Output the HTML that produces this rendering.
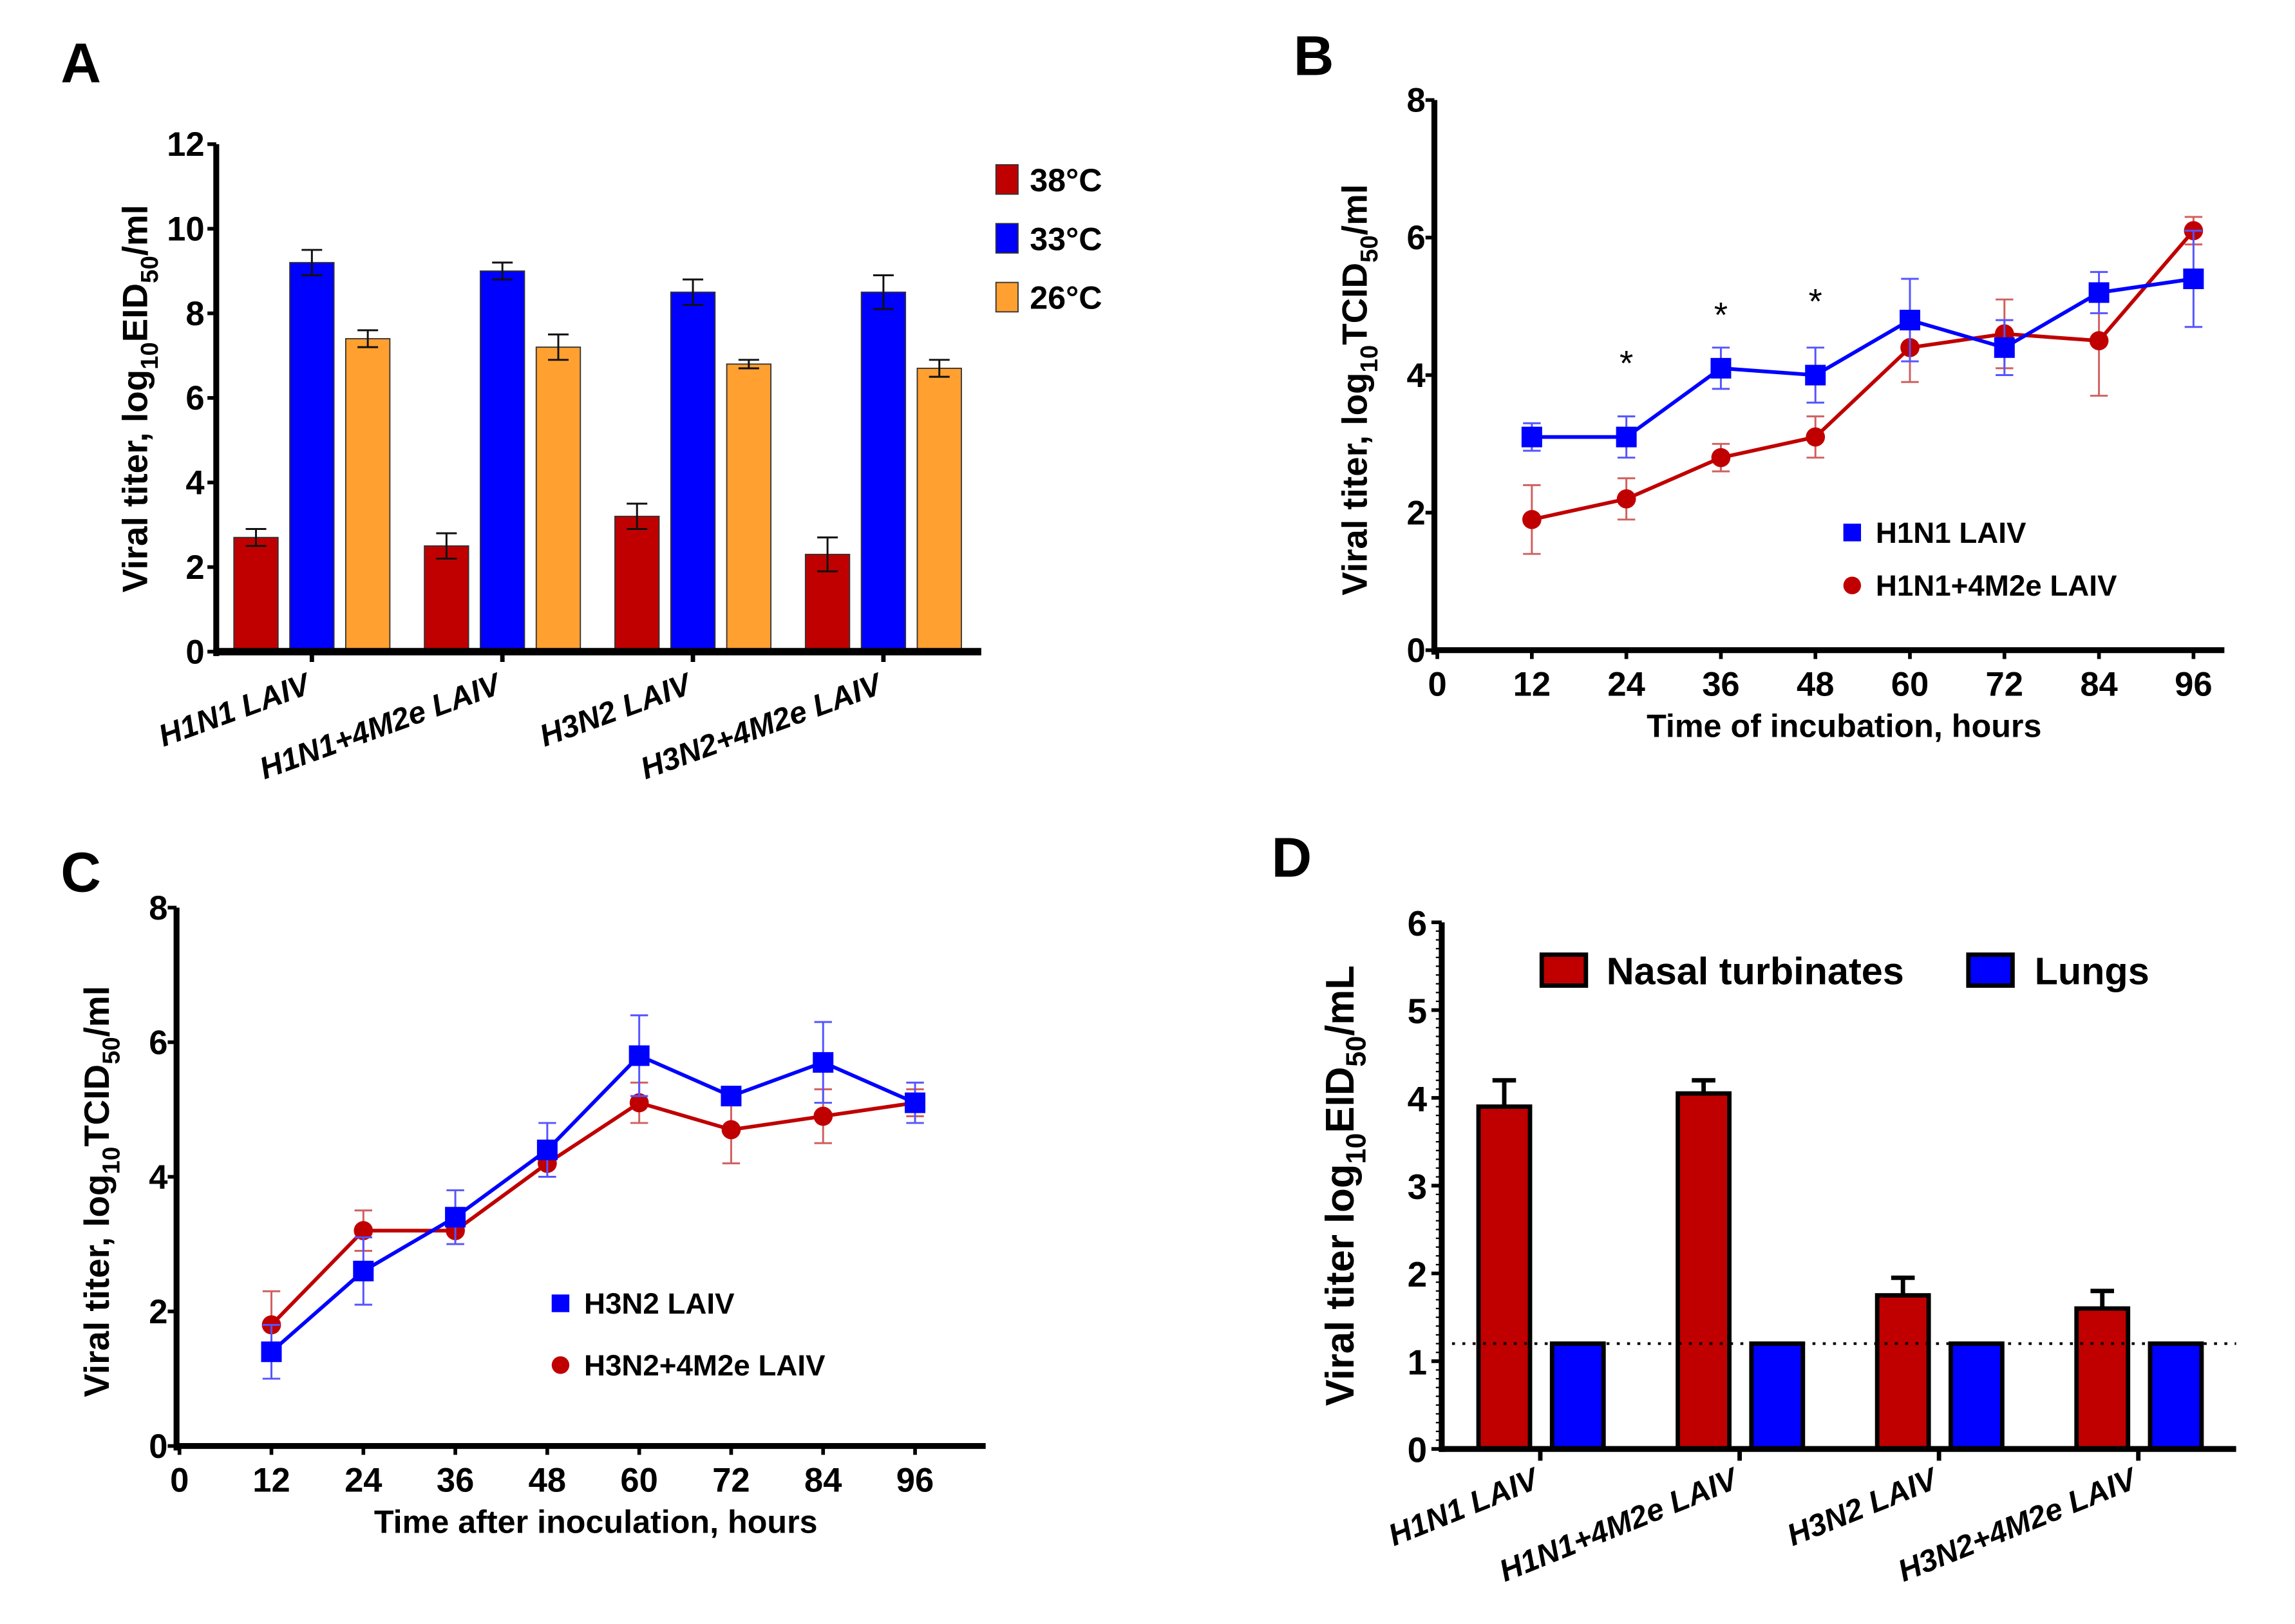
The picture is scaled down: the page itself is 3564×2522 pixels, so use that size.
<!DOCTYPE html>
<html><head><meta charset="utf-8"><style>
html,body{margin:0;padding:0;background:#fff;}
svg{display:block;}
text{font-family:"Liberation Sans",sans-serif;}
.t{font-family:"Liberation Sans Narrow","Liberation Sans",sans-serif;font-weight:bold;}
</style></head><body>
<svg id="fig" width="3564" height="2522" viewBox="0 0 1560 1104" preserveAspectRatio="none" xmlns="http://www.w3.org/2000/svg"></svg>
<script>
// Panel A data
const catsA = ["H1N1 LAIV","H1N1+4M2e LAIV","H3N2 LAIV","H3N2+4M2e LAIV"];
const seriesA = ["38°C","33°C","26°C"];
const a38 = [2.7,2.5,3.2,2.3];
const a38e = [0.2,0.3,0.3,0.4];
const a33 = [9.2,9.0,8.5,8.5];
const a33e = [0.3,0.2,0.3,0.4];
const a26 = [7.4,7.2,6.8,6.7];
const a26e = [0.2,0.3,0.1,0.2];
const ticksA = [0,2,4,6,8,10,12];
// Panel B data
const hours = [12,24,36,48,60,72,84,96];
const xTicks = [0,12,24,36,48,60,72,84,96];
const bBlue = [3.1,3.1,4.1,4.0,4.8,4.4,5.2,5.4];
const bBlueE = [0.2,0.3,0.3,0.4,0.6,0.4,0.3,0.7];
const bRed = [1.9,2.2,2.8,3.1,4.4,4.6,4.5,6.1];
const bRedE = [0.5,0.3,0.2,0.3,0.5,0.5,0.8,0.2];
const bStarHours = [24,36,48];
const bStarVals = [4.3,5.0,5.2];
const ticksBC = [0,2,4,6,8];
// Panel C data
const cBlue = [1.4,2.6,3.4,4.4,5.8,5.2,5.7,5.1];
const cBlueE = [0.4,0.5,0.4,0.4,0.6,0.1,0.6,0.3];
const cRed = [1.8,3.2,3.2,4.2,5.1,4.7,4.9,5.1];
const cRedE = [0.5,0.3,0.2,0.2,0.3,0.5,0.4,0.2];
// Panel D data
const dNasal = [3.9,4.05,1.75,1.6];
const dNasalE = [0.3,0.15,0.2,0.2];
const dLungs = [1.2,1.2,1.2,1.2];
const dLimit = 1.2;
const ticksD = [0,1,2,3,4,5,6];

const svg = document.getElementById('fig');
const NS = "http://www.w3.org/2000/svg";
function el(tag, attrs, parent, txt){
  const e = document.createElementNS(NS, tag);
  for (const k in attrs) e.setAttribute(k, attrs[k]);
  if (txt !== undefined) e.textContent = txt;
  (parent||svg).appendChild(e);
  return e;
}
function group(name){
  const g = el('g', {});
  
  
  return g;
}
function panelLetter(ch, x, y){
  const t = el('text', {x:x, y:y, 'font-size':38, 'font-weight':'bold', 'text-anchor':'middle'}, svg, ch);
  
  
}
function ylabel(g, x, y, main, unit, rest, size){
  const t = el('text', {x:0, y:0, 'font-size':size, 'font-weight':'bold', 'text-anchor':'middle', transform:`translate(${x},${y}) rotate(-90)`}, g);
  
  
  el('tspan', {}, t, main);
  el('tspan', {'font-size':size*0.7, dy:size*0.3}, t, '10');
  el('tspan', {dy:-size*0.3}, t, unit);
  el('tspan', {'font-size':size*0.7, dy:size*0.3}, t, '50');
  el('tspan', {dy:-size*0.3}, t, rest);
}
function errBar(g, x, yTop, yBot, col, cap, w){
  el('line', {x1:x, x2:x, y1:yTop, y2:yBot, stroke:col, 'stroke-width':w||1.5}, g);
  el('line', {x1:x-cap, x2:x+cap, y1:yTop, y2:yTop, stroke:col, 'stroke-width':w||1.5}, g);
}
function errBar2(g, x, yTop, yBot, col, cap, w){
  errBar(g, x, yTop, yBot, col, cap, w);
  el('line', {x1:x-cap, x2:x+cap, y1:yBot, y2:yBot, stroke:col, 'stroke-width':w||1.5}, g);
}

// ================= Panel A =================
panelLetter('A', 55, 56);
(function(){
  const g = group('panel-a-chart');
  const x0 = 147, y0 = 443, yTop = 98, xEnd = 667;
  const ys = v => y0 - (v/12)*(y0-yTop);
  const groupX = i => 159 + i*129.5;
  const offs = [0,38,76], bw = 30;
  const cols = ["#c00000","#0000ff","#ffa030"];
  const vals = [a38,a33,a26], errs = [a38e,a33e,a26e];
  for (let s=0;s<3;s++){
    for (let i=0;i<catsA.length;i++){
      const x = groupX(i)+offs[s];
      const r = el('rect', {x:x, y:ys(vals[s][i]), width:bw, height:y0-ys(vals[s][i]), fill:cols[s], stroke:'#333', 'stroke-width':0.8}, g);
      
      
      errBar2(g, x+bw/2, ys(vals[s][i]+errs[s][i]), ys(vals[s][i]-errs[s][i]), '#111', 7, 1.3);
    }
  }
  el('line', {x1:x0, x2:x0, y1:yTop, y2:y0+3, stroke:'#000', 'stroke-width':4}, g);
  el('line', {x1:x0-2, x2:xEnd, y1:y0, y2:y0, stroke:'#000', 'stroke-width':5}, g);
  ticksA.forEach(v=>{
    el('line', {x1:x0-6, x2:x0, y1:ys(v), y2:ys(v), stroke:'#000', 'stroke-width':2.5}, g);
    const t = el('text', {x:x0-8, y:ys(v)+8, 'font-size':23, 'text-anchor':'end', class:'t'}, g, v);
     
  });
  catsA.forEach((c,i)=>{
    const cx = groupX(i)+53;
    el('line', {x1:cx, x2:cx, y1:y0, y2:y0+7, stroke:'#000', 'stroke-width':3}, g);
    const t = el('text', {x:0, y:0, 'font-size':21, 'font-weight':'bold', 'font-style':'italic', 'text-anchor':'end', transform:`translate(${cx},${y0+28}) rotate(-20)`}, g, c);
     
  });
  ylabel(g, 100, 271, "Viral titer, log", "EID", "/ml", 24);
  seriesA.forEach((s,i)=>{
    const lg = group('legend-entry-' + s.replace('°C','c'));
    el('rect', {x:677, y:112+i*40, width:15, height:20, fill:cols[i], stroke:'#333', 'stroke-width':0.8}, lg);
    el('text', {x:700, y:130+i*40, 'font-size':22, class:'t'}, lg, s);
  });
})();

// generic line chart
function lineChart(name, x0, y0, yTop, xEnd, xStep, blue, blueE, red, redE, xTitle, legendX, legendY1, legendY2, blueName, redName, stars){
  const g = group(name);
  const ys = v => y0 - (v/8)*(y0-yTop);
  const xs = h => x0 + 2 + (h/12)*xStep;
  el('line', {x1:x0, x2:x0, y1:yTop, y2:y0+3, stroke:'#000', 'stroke-width':4}, g);
  el('line', {x1:x0-2, x2:xEnd, y1:y0, y2:y0, stroke:'#000', 'stroke-width':4}, g);
  ticksBC.forEach(v=>{
    el('line', {x1:x0-6, x2:x0, y1:ys(v), y2:ys(v), stroke:'#000', 'stroke-width':2.5}, g);
    const t = el('text', {x:x0-6, y:ys(v)+8, 'font-size':23, 'text-anchor':'end', class:'t'}, g, v);
     
  });
  xTicks.forEach(h=>{
    el('line', {x1:xs(h), x2:xs(h), y1:y0, y2:y0+6, stroke:'#000', 'stroke-width':2.5}, g);
    const t = el('text', {x:xs(h), y:y0+31, 'font-size':23, 'text-anchor':'middle', class:'t'}, g, h);
     
  });
  const xt = el('text', {x:(x0+xEnd)/2+10, y:y0+59, 'font-size':22, 'text-anchor':'middle', class:'t'}, g, xTitle);
   
  ylabel(g, x0-46, (y0+yTop)/2 + 10, "Viral titer, log", "TCID", "/ml", 24);
  const drawSeries = (vals, errs, col, errCol, square, sname)=>{
    const sg = group(sname);
    vals.forEach((v,i)=> errBar2(sg, xs(hours[i]), ys(v+errs[i]), ys(v-errs[i]), errCol, 6, 1.3));
    const pts = vals.map((v,i)=>xs(hours[i])+','+ys(v)).join(' ');
    el('polyline', {points:pts, fill:'none', stroke:col, 'stroke-width':2.5}, sg);
    vals.forEach((v,i)=>{
      const m = square ? el('rect', {x:xs(hours[i])-7, y:ys(v)-7, width:14, height:14, fill:col}, sg)
                       : el('circle', {cx:xs(hours[i]), cy:ys(v), r:6.5, fill:col}, sg);
       
    });
  };
  drawSeries(red, redE, '#c00000', '#d06060', false, 'series-red');
  drawSeries(blue, blueE, '#0000ff', '#5555ff', true, 'series-blue');
  if (stars) stars.h.forEach((h,i)=>{
    const t = el('text', {x:xs(h), y:ys(stars.v[i])+14, 'font-size':24, 'text-anchor':'middle'}, g, '*');
     
  });
  const l1 = group('legend-entry-blue');
  el('rect', {x:legendX-6, y:legendY1-6, width:12, height:12, fill:'#0000ff'}, l1);
  el('text', {x:legendX+16, y:legendY1+7, 'font-size':20, class:'t'}, l1, blueName);
  const l2 = group('legend-entry-red');
  el('circle', {cx:legendX, cy:legendY2, r:6, fill:'#c00000'}, l2);
  el('text', {x:legendX+16, y:legendY2+7, 'font-size':20, class:'t'}, l2, redName);
}
panelLetter('B', 893, 51);
lineChart('panel-b-chart', 975, 442, 68, 1512, 64.25, bBlue, bBlueE, bRed, bRedE, "Time of incubation, hours", 1259, 362, 398, "H1N1 LAIV", "H1N1+4M2e LAIV", {h:bStarHours, v:bStarVals});
panelLetter('C', 55, 606);
lineChart('panel-c-chart', 120, 983, 617, 670, 62.5, cBlue, cBlueE, cRed, cRedE, "Time after inoculation, hours", 381, 886, 928, "H3N2 LAIV", "H3N2+4M2e LAIV", null);

// ================= Panel D =================
panelLetter('D', 878, 596);
(function(){
  const g = group('panel-d-chart');
  const x0 = 980, y0 = 985, yTop = 627, xEnd = 1520;
  const ys = v => y0 - (v/6)*(y0-yTop);
  const gx = i => 1005 + i*135.5;
  const bw = 35;
  for (let k=0;k<=60;k++){
    el('line', {x1:x0-4, x2:x0, y1:ys(k/10), y2:ys(k/10), stroke:'#000', 'stroke-width':1}, g);
  }
  dNasal.forEach((v,i)=>{
    const x = gx(i);
    errBar(g, x+bw/2, ys(v+dNasalE[i]), ys(v), '#000', 8, 3);
    const r = el('rect', {x:x, y:ys(v), width:bw, height:y0-ys(v), fill:'#c00000', stroke:'#000', 'stroke-width':3}, g);
     
    const r2 = el('rect', {x:x+50, y:ys(dLungs[i]), width:bw, height:y0-ys(dLungs[i]), fill:'#0000ff', stroke:'#000', 'stroke-width':3}, g);
     
    const cx = x+42;
    el('line', {x1:cx, x2:cx, y1:y0, y2:y0+8, stroke:'#000', 'stroke-width':3}, g);
    const t = el('text', {x:0, y:0, 'font-size':21, 'font-weight':'bold', 'font-style':'italic', 'text-anchor':'end', transform:`translate(${cx},${y0+26}) rotate(-22)`}, g, catsA[i]);
     
  });
  const dl = el('line', {x1:x0, x2:xEnd, y1:ys(dLimit), y2:ys(dLimit), stroke:'#000', 'stroke-width':1.8, 'stroke-dasharray':'2,5'}, g);
   
  el('line', {x1:x0, x2:x0, y1:yTop, y2:y0+2, stroke:'#000', 'stroke-width':4}, g);
  el('line', {x1:x0-2, x2:xEnd, y1:y0, y2:y0, stroke:'#000', 'stroke-width':4}, g);
  ticksD.forEach(v=>{
    el('line', {x1:x0-7, x2:x0, y1:ys(v), y2:ys(v), stroke:'#000', 'stroke-width':2.5}, g);
    const t = el('text', {x:x0-10, y:ys(v)+9, 'font-size':24, 'text-anchor':'end', class:'t'}, g, v);
     
  });
  ylabel(g, 920, 806, "Viral titer log", "EID", "/mL", 27);
  const l1 = group('legend-entry-nasal');
  el('rect', {x:1048, y:649, width:30, height:21, fill:'#c00000', stroke:'#000', 'stroke-width':3}, l1);
  el('text', {x:1092, y:669, 'font-size':26, class:'t'}, l1, "Nasal turbinates");
  const l2 = group('legend-entry-lungs');
  el('rect', {x:1338, y:649, width:30, height:21, fill:'#0000ff', stroke:'#000', 'stroke-width':3}, l2);
  el('text', {x:1383, y:669, 'font-size':26, class:'t'}, l2, "Lungs");
})();
</script>
</body></html>
